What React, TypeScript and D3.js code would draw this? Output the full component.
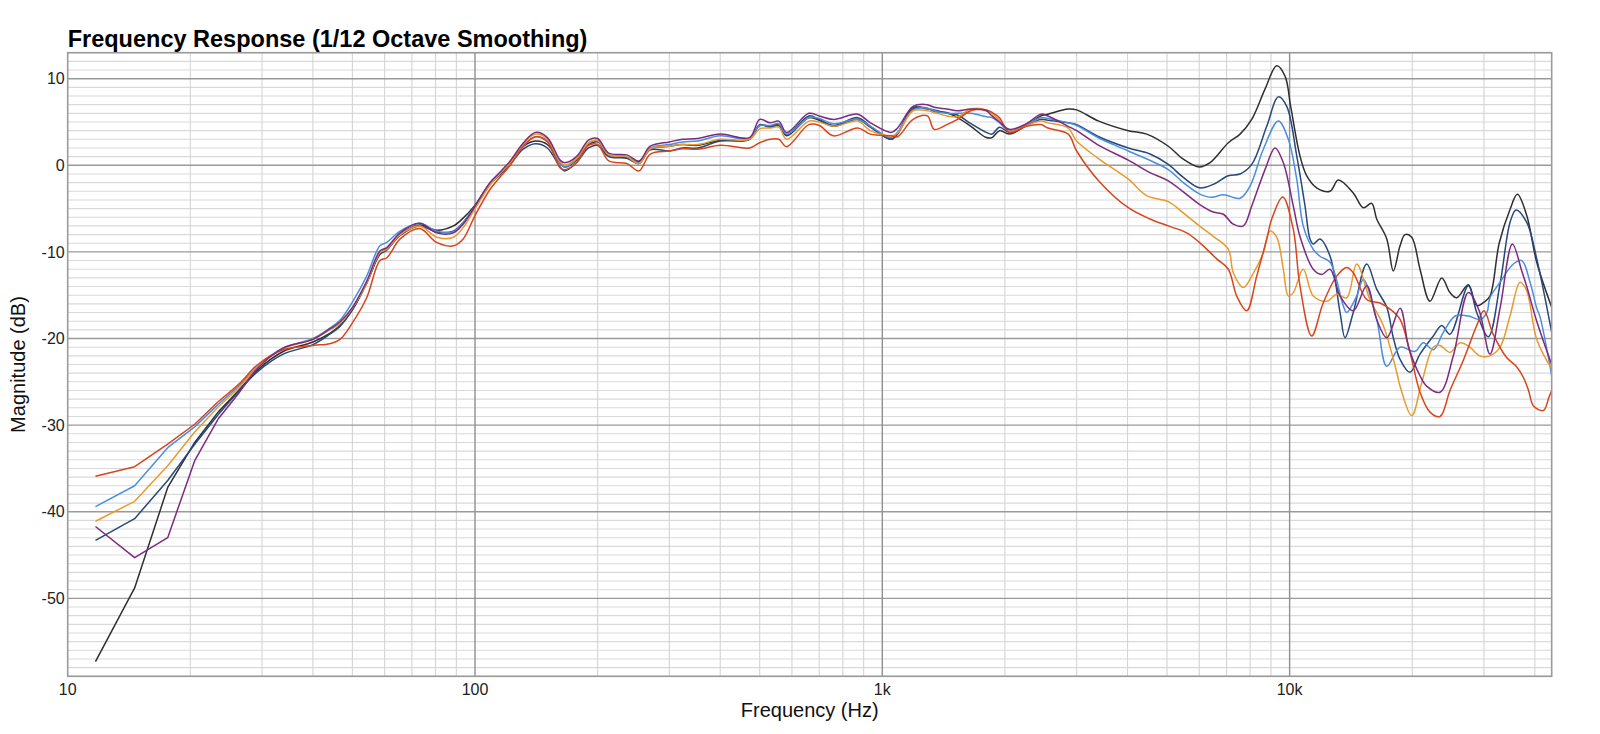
import React from 'react';
import * as d3 from 'd3';

// Shared frequency points (Hz) for the low / mid band
const lowFreqs = [
  11.7, 14.6, 17.6, 20.5, 23.4, 26.4, 29.3, 33.8, 40, 44, 46.6, 50, 54.2, 58.4, 60.7, 65.5,
  73.1, 80.5, 88.5, 93.5, 100, 108.8, 114, 122, 131.5, 140.8, 150.5, 161.8, 166, 177.5, 190,
  200, 213, 236, 252.6, 269.4, 300, 323, 352, 400, 472, 500, 530, 557, 582, 660, 700, 759,
  870, 935, 1050, 1090, 1190, 1290, 1340, 1440, 1530, 1650, 1800, 1860, 1940, 2050, 2260,
  2450, 2550, 2860, 3000, 3400,
];

// Magnitude (dB) at lowFreqs, per measurement
const blackLow = [
  -57.3, -48.8, -37.2, -32.0, -28.5, -25.9, -23.6, -21.5, -20.4, -19.4, -18.5, -16.7, -13.6, -10.2, -9.6, -8.0,
  -6.9, -7.5, -7.0, -6.1, -4.6, -2.1, -1.2, 0.3, 2.2, 2.8, 2.4, 0.2, -0.2, 0.6, 2.4,
  2.7, 1.1, 0.9, 0.4, 1.9, 2.2, 2.4, 2.3, 2.9, 3.0, 4.6, 4.5, 4.7, 3.4, 5.5, 5.2, 4.5,
  5.3, 4.4, 3.0, 3.6, 6.5, 6.6, 6.2, 6.1, 5.5, 4.5, 3.2, 3.2, 4.0, 3.6, 4.6,
  5.7, 5.9, 6.5, 6.4, 5.1,
];
const darkBlueLow = [
  -43.3, -40.8, -36.4, -32.2, -28.8, -26.0, -23.8, -21.8, -20.7, -19.5, -18.6, -16.7, -13.6, -10.3, -9.8, -8.1,
  -7.0, -7.7, -7.6, -6.6, -4.8, -2.2, -1.3, 0.1, 1.9, 2.5, 2.0, -0.2, -0.65, 0.3, 2.0,
  2.3, 1.0, 0.8, 0.2, 1.8, 1.65, 2.0, 2.0, 2.8, 3.0, 4.7, 4.4, 4.6, 3.5, 5.7, 5.3, 4.6,
  5.5, 4.5, 3.0, 3.7, 6.7, 6.5, 6.4, 6.0, 5.8, 4.8, 3.8, 3.6, 4.4, 3.8, 4.6,
  5.3, 5.2, 4.9, 4.7, 3.3,
];
const lightBlueLow = [
  -39.4, -37.0, -32.6, -30.2, -27.6, -25.4, -23.2, -21.1, -20.0, -18.8, -17.9, -15.8, -12.8, -9.3, -8.9, -7.6,
  -6.7, -7.6, -7.7, -6.6, -4.7, -2.1, -1.1, 0.3, 2.3, 3.3, 2.8, 0.2, -0.2, 0.7, 2.6,
  2.8, 1.2, 1.0, 0.3, 2.0, 2.4, 2.7, 2.8, 3.4, 3.1, 4.6, 4.6, 4.8, 3.6, 5.5, 5.4, 4.8,
  5.3, 4.5, 3.2, 3.8, 6.4, 6.6, 6.3, 6.0, 6.0, 6.0, 5.6, 5.5, 4.9, 4.0, 4.7,
  5.5, 5.4, 4.9, 4.6, 3.15,
];
const purpleLow = [
  -41.7, -45.3, -43.0, -34.1, -29.3, -26.2, -23.4, -21.1, -20.1, -18.9, -18.1, -16.4, -13.4, -9.9, -9.5, -7.8,
  -6.7, -7.8, -7.8, -6.8, -4.7, -2.0, -1.0, 0.5, 2.6, 3.8, 3.2, 0.6, 0.3, 1.0, 2.9,
  3.1, 1.4, 1.2, 0.5, 2.2, 2.7, 3.0, 3.1, 3.6, 3.2, 5.3, 4.9, 5.1, 3.8, 6.0, 5.7, 5.3,
  5.9, 4.9, 3.8, 4.3, 6.8, 7.0, 6.7, 6.5, 6.3, 6.5, 6.3, 5.7, 5.0, 4.15, 4.8,
  5.9, 5.7, 4.5, 4.0, 2.3,
];
const orangeLow = [
  -41.1, -38.8, -34.7, -30.8, -27.9, -25.6, -23.3, -21.2, -20.1, -19.0, -18.3, -16.5, -13.6, -10.1, -9.7, -8.0,
  -7.0, -8.3, -8.3, -7.2, -5.0, -2.3, -1.2, 0.3, 2.5, 3.6, 3.0, 0.4, 0.0, 0.8, 2.6,
  2.9, 1.2, 1.0, 0.2, 1.9, 2.2, 2.4, 2.4, 3.0, 3.0, 4.2, 4.3, 4.4, 3.0, 5.1, 5.0, 4.5,
  5.1, 4.0, 3.4, 3.7, 6.3, 6.3, 6.1, 5.7, 5.6, 6.5, 6.4, 6.0, 5.2, 3.9, 4.6,
  5.1, 4.9, 4.3, 2.8, 0.75,
];
const redLow = [
  -35.9, -34.8, -32.2, -29.9, -27.3, -25.2, -23.0, -21.3, -20.8, -20.6, -20.1, -18.2, -15.3, -11.0, -10.7, -8.5,
  -7.3, -8.9, -9.3, -8.5, -5.8, -2.8, -1.6, 0.0, 2.2, 3.3, 2.7, -0.3, -0.5, 0.3, 2.3,
  2.4, 0.5, 0.2, -0.65, 1.3, 1.65, 1.9, 1.85, 2.3, 2.0, 2.6, 3.0, 3.0, 2.15, 4.7, 4.6, 3.4,
  4.3, 3.6, 3.4, 3.3, 5.3, 5.7, 4.15, 4.7, 5.3, 6.3, 6.4, 6.1, 5.5, 3.8, 4.5,
  4.7, 4.3, 3.6, 1.65, -1.8,
];

// Treble band [Hz, dB], per measurement
const blackHigh: [number, number][] = [
  [4018, 4.0], [4459, 3.6], [5037, 2.2], [5483, 0.7], [6003, -0.2], [6377, 0.3], [7072, 2.6], [7556, 3.6],
  [8072, 5.3], [8701, 8.8], [9297, 11.5], [9744, 10.3], [10060, 6.8], [10600, 1.1], [11010, -1.2],
  [11650, -2.6], [12570, -3.0], [13170, -1.7], [14330, -3.2], [15170, -4.9], [15900, -4.4], [16360, -6.2],
  [17320, -8.5], [17970, -12.2], [18670, -9.3], [19200, -8.0], [19940, -8.3], [20900, -12.0], [22110, -15.7],
  [23630, -13.0], [24760, -14.7], [25720, -15.3], [27470, -13.8], [28800, -16.2], [30000, -15.8],
  [31040, -15.1], [32700, -9.0], [34760, -5.1], [36240, -3.35], [38210, -5.8], [40430, -11.2], [44000, -16.4],
];
const darkBlueHigh: [number, number][] = [
  [4018, 2.0], [4542, 1.3], [5037, 0.1], [5483, -1.4], [6003, -2.6], [6496, -2.2], [7072, -1.2], [7556, -1.0],
  [8072, 0.1], [8786, 4.5], [9382, 7.9], [9838, 6.8], [10410, 1.1], [10910, -4.7], [11220, -8.5],
  [11430, -9.1], [11870, -8.5], [12570, -10.5], [13300, -17.0], [13680, -19.9], [14330, -17.0],
  [15460, -11.4], [16360, -14.3], [17320, -16.4], [17970, -19.9], [18670, -22.4], [19750, -23.9],
  [20900, -21.8], [22530, -19.7], [23630, -18.5], [24760, -19.5], [27470, -13.9], [28800, -17.0],
  [30750, -19.8], [32860, -13.7], [34760, -6.6], [35960, -5.15], [38210, -6.6], [40430, -10.8], [44000, -19.3],
];
const lightBlueHigh: [number, number][] = [
  [4018, 1.65], [5037, -0.5], [5483, -2.0], [6003, -3.3], [6438, -3.7], [6877, -3.4], [7556, -3.8],
  [7995, -2.4], [8618, 1.85], [9382, 5.1], [9927, 3.0], [10410, -1.6], [10800, -7.0], [11430, -9.7],
  [11870, -10.5], [12570, -11.2], [13540, -16.2], [13810, -17.0], [14610, -15.1], [15170, -13.2],
  [16360, -17.8], [17320, -23.2], [18670, -21.0], [20300, -21.5], [21290, -20.5], [22530, -21.3],
  [23840, -19.3], [25500, -17.4], [27470, -17.4], [29340, -17.8], [30500, -17.0], [31040, -15.3],
  [32860, -13.5], [35430, -11.4], [37150, -11.0], [38930, -13.5], [40430, -16.5], [41190, -17.5], [44000, -24.3],
];
const purpleHigh: [number, number][] = [
  [4018, 0.6], [4542, -0.85], [5037, -1.8], [6003, -4.5], [6496, -5.4], [6877, -5.65], [7274, -6.8],
  [7698, -7.0], [8072, -4.7], [8701, -0.5], [9209, 2.0], [9650, 0.3], [10210, -4.7], [10600, -8.2],
  [11430, -12.0], [11990, -12.6], [12570, -12.0], [13300, -15.1], [14330, -16.8], [15460, -13.9],
  [16360, -17.8], [17320, -19.9], [18670, -16.5], [19600, -21.0], [20900, -24.3], [21700, -25.5],
  [23400, -26.2], [25230, -22.0], [27470, -14.7], [29200, -16.8], [31040, -21.8], [32860, -16.5],
  [35230, -9.1], [37150, -12.2], [38210, -14.0], [40430, -18.0], [44000, -23.0],
];
const orangeHigh: [number, number][] = [
  [4018, -1.6], [4459, -3.5], [5037, -4.2], [5483, -5.5], [6003, -7.0], [6496, -8.2], [7072, -9.7],
  [7274, -12.4], [7698, -14.1], [8072, -12.8], [8618, -10.1], [8952, -7.6], [9297, -8.3], [9650, -12.0],
  [9927, -15.1], [10210, -14.7], [10800, -12.0], [11430, -15.1], [12330, -15.7], [13050, -14.9],
  [13810, -15.3], [14610, -11.4], [15750, -15.5], [16980, -18.5], [18320, -23.9], [18670, -25.5],
  [19940, -28.9], [21100, -25.1], [22530, -21.0], [23400, -20.8], [24760, -21.6], [26200, -20.5],
  [27700, -21.0], [29300, -22.0], [31000, -22.0], [32860, -21.0], [34760, -17.4], [36800, -13.5],
  [38210, -14.5], [40430, -20.1], [44000, -23.5],
];
const redHigh: [number, number][] = [
  [4018, -4.9], [4542, -6.2], [5037, -7.0], [5590, -7.8], [6003, -8.9], [6623, -10.8], [7072, -12.0],
  [7416, -15.1], [7847, -16.8], [8303, -12.8], [8786, -8.5], [9039, -6.2], [9618, -3.65], [10210, -7.4],
  [10600, -13.9], [11330, -19.7], [12090, -15.9], [13050, -12.8], [13810, -11.8], [14330, -12.4],
  [15460, -15.5], [16670, -15.9], [17640, -16.6], [18670, -17.8], [19750, -21.6], [20900, -26.2],
  [22110, -28.5], [23400, -29.0], [24760, -26.0], [26700, -22.5], [28800, -18.5], [30000, -16.8],
  [31600, -19.5], [34100, -22.2], [36000, -23.2], [37500, -24.5], [38600, -26.0], [39700, -27.8],
  [42000, -28.3], [43300, -26.8], [44000, -26.0],
];

const seriesList = [
  { name: 'black', color: '#2f2f2f', low: blackLow, high: blackHigh },
  { name: 'darkBlue', color: '#24497a', low: darkBlueLow, high: darkBlueHigh },
  { name: 'lightBlue', color: '#4b8ee0', low: lightBlueLow, high: lightBlueHigh },
  { name: 'orange', color: '#e99a2c', low: orangeLow, high: orangeHigh },
  { name: 'red', color: '#d9441b', low: redLow, high: redHigh },
  { name: 'purple', color: '#7d2b7f', low: purpleLow, high: purpleHigh },
];

const xTickValues = [10, 100, 1000, 10000];
const xTickLabels = ['10', '100', '1k', '10k'];
const yTickValues = [10, 0, -10, -20, -30, -40, -50];

const W = 1600;
const H = 734;
const plot = { left: 67.7, top: 52.7, right: 1551.7, bottom: 676.3 };

// the first few FFT bins are joined by straight segments, the rest is smoothed
const SPARSE_BINS = 5;

const App: React.FC = () => {
  const x = d3.scaleLog().domain([10, 44000]).range([plot.left, plot.right]);
  const y = d3.scaleLinear().domain([-59, 13]).range([plot.bottom, plot.top]);

  const straight = d3
    .line<[number, number]>()
    .x(d => x(d[0]))
    .y(d => y(d[1]));
  const smooth = d3
    .line<[number, number]>()
    .x(d => x(d[0]))
    .y(d => y(d[1]))
    .curve(d3.curveCatmullRom.alpha(0.5));

  // Minor grid: every dB, and 2..9 within each decade
  const minorY = d3.range(-59, 14).filter(v => v % 10 !== 0);
  const minorX: number[] = [];
  [10, 100, 1000, 10000].forEach(dec => {
    for (let m = 2; m <= 9; m++) {
      if (m * dec < 44000) minorX.push(m * dec);
    }
  });

  const font = 'Liberation Sans, Arial, Helvetica, sans-serif';

  return (
    <svg
      width={W}
      height={H}
      style={{ position: 'absolute', left: 0, top: 0, background: '#fff' }}
      fontFamily={font}
    >
      <rect x={0} y={0} width={W} height={H} fill="#fff" />

      {/* grid */}
      <g>
        {minorY.map(v => (
          <line key={`my${v}`} x1={plot.left} x2={plot.right} y1={y(v)} y2={y(v)} stroke="#d9d9d9" strokeWidth={1.1} />
        ))}
        {minorX.map(v => (
          <line key={`mx${v}`} x1={x(v)} x2={x(v)} y1={plot.top} y2={plot.bottom} stroke="#d4d4d4" strokeWidth={1.1} />
        ))}
        {yTickValues.map(v => (
          <line key={`My${v}`} x1={plot.left} x2={plot.right} y1={y(v)} y2={y(v)} stroke="#9a9a9a" strokeWidth={1.4} />
        ))}
        {xTickValues.slice(1).map(v => (
          <line key={`Mx${v}`} x1={x(v)} x2={x(v)} y1={plot.top} y2={plot.bottom} stroke="#8f8f8f" strokeWidth={1.4} />
        ))}
      </g>

      {/* curves */}
      <defs>
        <clipPath id="plotClip">
          <rect x={plot.left} y={plot.top} width={plot.right - plot.left} height={plot.bottom - plot.top} />
        </clipPath>
      </defs>
      <g clipPath="url(#plotClip)">
        {seriesList.map(s => {
          const pts: [number, number][] = lowFreqs.map((f, i) => [f, s.low[i]] as [number, number]).concat(s.high);
          const head = pts.slice(0, SPARSE_BINS);
          const tail = pts.slice(SPARSE_BINS - 1);
          return (
            <g key={s.name} fill="none" stroke={s.color} strokeWidth={1.5} strokeLinejoin="round">
              <path d={straight(head) || ''} />
              <path d={smooth(tail) || ''} />
            </g>
          );
        })}
      </g>

      {/* frame */}
      <rect
        x={plot.left}
        y={plot.top}
        width={plot.right - plot.left}
        height={plot.bottom - plot.top}
        fill="none"
        stroke="#9a9a9a"
        strokeWidth={1.6}
      />

      {/* tick labels */}
      {yTickValues.map(v => (
        <text key={`yl${v}`} x={plot.left - 3} y={y(v)} dy="0.36em" textAnchor="end" fontSize={16} fill="#222">
          {v}
        </text>
      ))}
      {xTickValues.map((v, i) => (
        <text key={`xl${v}`} x={x(v)} y={695} textAnchor="middle" fontSize={16} fill="#222">
          {xTickLabels[i]}
        </text>
      ))}

      {/* axis titles */}
      <text x={(plot.left + plot.right) / 2} y={716.7} textAnchor="middle" fontSize={20} fill="#111">
        Frequency (Hz)
      </text>
      <text
        transform={`translate(24.5,${(plot.top + plot.bottom) / 2}) rotate(-90)`}
        textAnchor="middle"
        fontSize={20}
        fill="#111"
      >
        Magnitude (dB)
      </text>
      <text x={plot.left} y={46.7} fontSize={23.5} fontWeight="bold" fill="#000">
        Frequency Response (1/12 Octave Smoothing)
      </text>
    </svg>
  );
};

export default App;
